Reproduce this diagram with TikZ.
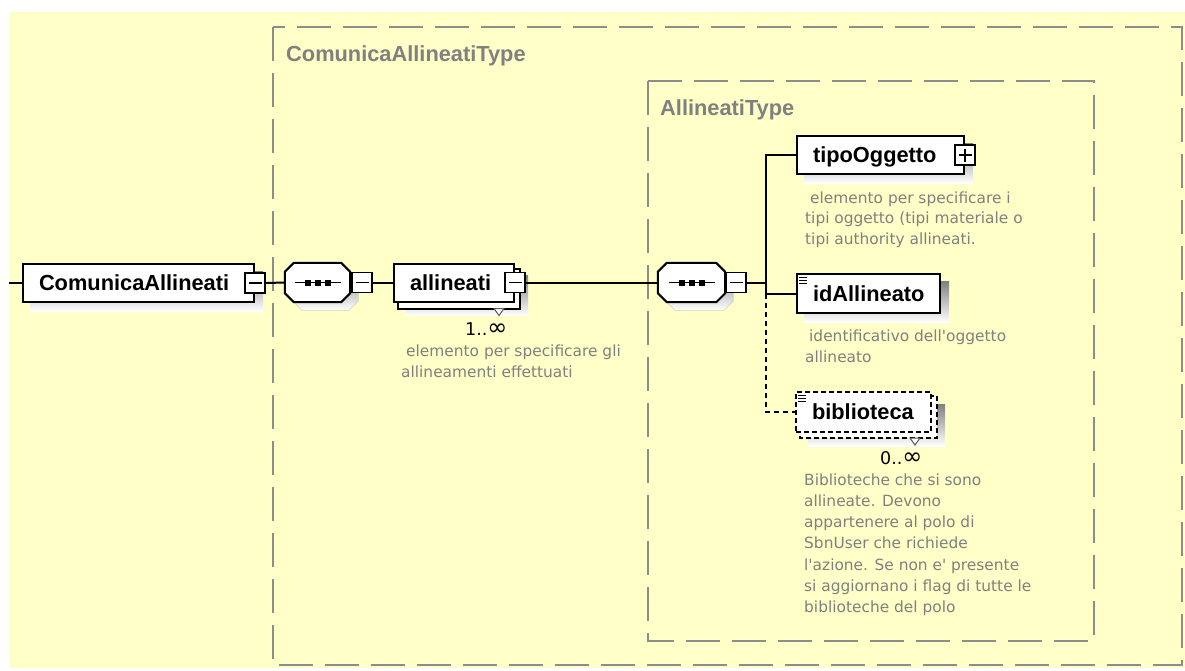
\documentclass[tikz,border=0pt]{standalone}
\usepackage{fontspec}
\setmainfont{DejaVu Sans}
\newfontfamily\lblfamily{Liberation Sans}
\definecolor{paper}{RGB}{255,255,200}
\definecolor{shade}{RGB}{196,196,204}
\definecolor{frame}{RGB}{140,140,140}
\definecolor{note}{RGB}{128,128,128}
\definecolor{marker}{RGB}{90,90,90}
\newcommand\elemfont{\lblfamily\bfseries\fontsize{21.8}{26}\selectfont}
\newcommand\notefont{\fontsize{15.4}{20.4}\selectfont}
\newcommand\multfont{\fontsize{17.5}{20}\selectfont}
\newcommand\infsign{{\fontsize{24}{20}\selectfont ∞}}
% octagonal outline of a sequence compositor, optionally shifted by (#2,#3)
\newcommand\chamferpath[3]{([shift={(9+#2,#3)}]#1.north west) -- ([shift={(-9+#2,#3)}]#1.north east) -- ([shift={(#2,9+#3)}]#1.north east) -- ([shift={(#2,-9+#3)}]#1.south east) -- ([shift={(-9+#2,#3)}]#1.south east) -- ([shift={(9+#2,#3)}]#1.south west) -- ([shift={(#2,-9+#3)}]#1.south west) -- ([shift={(#2,9+#3)}]#1.north west) -- cycle}
\pgfdeclarelayer{backdrop}
\pgfdeclarelayer{shadows}
\pgfdeclarelayer{stack}
\pgfsetlayers{backdrop,shadows,stack,main}
\begin{document}
\begin{tikzpicture}[x=1pt,y=-1pt,
  elem/.style={draw=black, line width=2pt, fill=white, anchor=west,
    minimum height=38pt, inner xsep=16pt, inner ysep=0pt, align=left,
    font=\elemfont, text height=15.8pt, text depth=0pt},
  optelem/.style={elem, dash pattern=on 5pt off 3pt},
  toggle/.style={draw=black, line width=1.5pt, fill=white, minimum size=20pt, inner sep=0pt},
  seqnode/.style={minimum width=65pt, minimum height=39pt, inner sep=0pt},
  seqline/.style={draw=black, line width=2pt, fill=white},
  link/.style={draw=black, line width=2pt},
  optlink/.style={link, dash pattern=on 5pt off 4pt},
  typeframe/.style={draw=frame, line width=2pt, dash pattern=on 34pt off 12pt},
  typelabel/.style={anchor=base west, inner sep=0pt, font=\elemfont, text=note},
  notebox/.style={anchor=north west, inner sep=0pt, align=left, font=\notefont, text=note},
  mult/.style={anchor=base west, inner sep=0pt, font=\multfont, text=black},
  stackbox/.style={draw=black, line width=2pt, fill=white},
  listicon/.style={draw=black, line width=1pt}
]
\useasboundingbox (0,0) rectangle (1185,670);

% paper and the two complex type frames
\begin{pgfonlayer}{backdrop}
  \fill[white] (0,0) rectangle (1185,670);
  \fill[paper] (9,12) rectangle (1185,668);
  \draw[typeframe] (273,27) rectangle (1182,665);
  \draw[typeframe] (648,81) rectangle (1094,641);
\end{pgfonlayer}
\node[typelabel] (outerType) at (286,61) {ComunicaAllineatiType};
\node[typelabel] (innerType) at (660,115) {AllineatiType};

% elements and compositors
\coordinate (entry) at (9,283);
\node[elem, text width=199pt] (ca) at (22,283) {ComunicaAllineati};
\node[toggle] (caT) at (ca.east) {};
\node[seqnode] (s1) at (317.5,282.5) {};
\node[toggle] (s1T) at (362,282.5) {};
\node[elem, text width=88pt] (al) at (393,282.5) {allineati};
\node[toggle] (alT) at (al.east) {};
\node[seqnode, minimum width=67pt] (s2) at (691.5,282.5) {};
\node[toggle] (s2T) at (736,282.5) {};
\coordinate (fork) at (766,282.5);
\node[elem, text width=135pt] (tipo) at (796,155) {tipoOggetto};
\node[toggle] (tipoT) at (tipo.east) {};
\node[elem, text width=111pt, minimum height=39pt] (idA) at (796,293.5) {idAllineato};
\node[optelem, text width=103pt, minimum height=40pt] (bib) at (795,412) {biblioteca};

% drop shadows
\begin{pgfonlayer}{shadows}
  \fill[shade] ([shift={(8,8)}]ca.north west) rectangle ([shift={(8,8)}]ca.south east);
  \fill[shade] \chamferpath{s1}{8}{8};
  \fill[shade] ([shift={(13,13)}]al.north west) rectangle ([shift={(13,13)}]al.south east);
  \fill[shade] \chamferpath{s2}{8}{8};
  \fill[shade] ([shift={(8,8)}]tipo.north west) rectangle ([shift={(8,8)}]tipo.south east);
  \fill[shade] ([shift={(8,8)}]idA.north west) rectangle ([shift={(8,8)}]idA.south east);
  \fill[shade] ([shift={(13,13)}]bib.north west) rectangle ([shift={(13,13)}]bib.south east);
\end{pgfonlayer}

% repeated elements: stacked copy and occurrence marker
\begin{pgfonlayer}{stack}
  \draw[stackbox] ([shift={(5,6)}]al.north west) rectangle ([shift={(5,6)}]al.south east);
  \draw[draw=marker, fill=white, line width=1pt] ([shift={(-21,6)}]al.south east) -- ([shift={(-11,6)}]al.south east) -- ([shift={(-16,13)}]al.south east) -- cycle;
  \draw[stackbox, dash pattern=on 5pt off 3pt] ([shift={(5,5)}]bib.north west) rectangle ([shift={(5,5)}]bib.south east);
  \draw[draw=marker, fill=white, line width=1pt] ([shift={(-22,5)}]bib.south east) -- ([shift={(-12,5)}]bib.south east) -- ([shift={(-17,12)}]bib.south east) -- cycle;
\end{pgfonlayer}

% sequence compositors
\foreach \s in {s1,s2} {
  \draw[seqline] \chamferpath{\s}{0}{0};
  \draw[line width=1.6pt] ([xshift=-23pt]\s.center) -- ([xshift=23pt]\s.center);
  \foreach \dx in {-10,0,10}
    \fill ([shift={(\dx-3,-3)}]\s.center) rectangle ([shift={(\dx+3,3)}]\s.center);
}

% connectors
\draw[link] (entry) -- (ca.west);
\draw[link] (caT.east) -- (s1.west);
\draw[link] (s1.east) -- (s1T.west);
\draw[link] (s1T.east) -- (al.west);
\draw[link] (alT.east) -- (s2.west);
\draw[link] (s2.east) -- (s2T.west);
\draw[link] (s2T.east) -- (fork);
\draw[link] (tipo.west) -- (tipo.west -| fork) -- (idA.west -| fork) -- (idA.west);
\draw[optlink] (idA.west -| fork) -- (bib.west -| fork) -- (bib.west);

% collapse / expand toggles redrawn on top
\node[toggle] at (caT) {};
\node[toggle] at (alT) {};
\node[toggle] at (tipoT) {};
\foreach \t in {caT,s1T,alT,s2T,tipoT}
  \draw[line width=1.4pt] ([xshift=-6.5pt]\t.center) -- ([xshift=6.5pt]\t.center);
\draw[line width=1.4pt] ([yshift=-6.5pt]tipoT.center) -- ([yshift=6.5pt]tipoT.center);

% simple-content icons
\foreach \e in {idA,bib}
  \foreach \dy in {4,7,10}
    \draw[listicon] ([shift={(3,\dy)}]\e.north west) -- ([shift={(11,\dy)}]\e.north west);

% occurrence ranges
\node[mult] (alM) at (465,335) {1..\infsign};
\node[mult] (bibM) at (880,464) {0..\infsign};

% annotations
\node[notebox] (alD) at (401,345) {\hspace*{5pt}elemento per specificare gli\\allineamenti effettuati};
\node[notebox] (tipoD) at (805,191.3) {\hspace*{5pt}elemento per specificare i\\tipi oggetto (tipi materiale o\\tipi authority allineati.};
\node[notebox] (idAD) at (805,330) {\hspace*{4pt}identificativo dell\textquotesingle oggetto\\allineato};
\node[notebox, font=\fontsize{15.4}{21.2}\selectfont] (bibD) at (804,473.3) {Biblioteche che si sono\\allineate. Devono\\appartenere al polo di\\SbnUser che richiede\\l\textquotesingle azione. Se non e\textquotesingle\ presente\\si aggiornano i flag di tutte le\\biblioteche del polo};
\end{tikzpicture}
\end{document}
